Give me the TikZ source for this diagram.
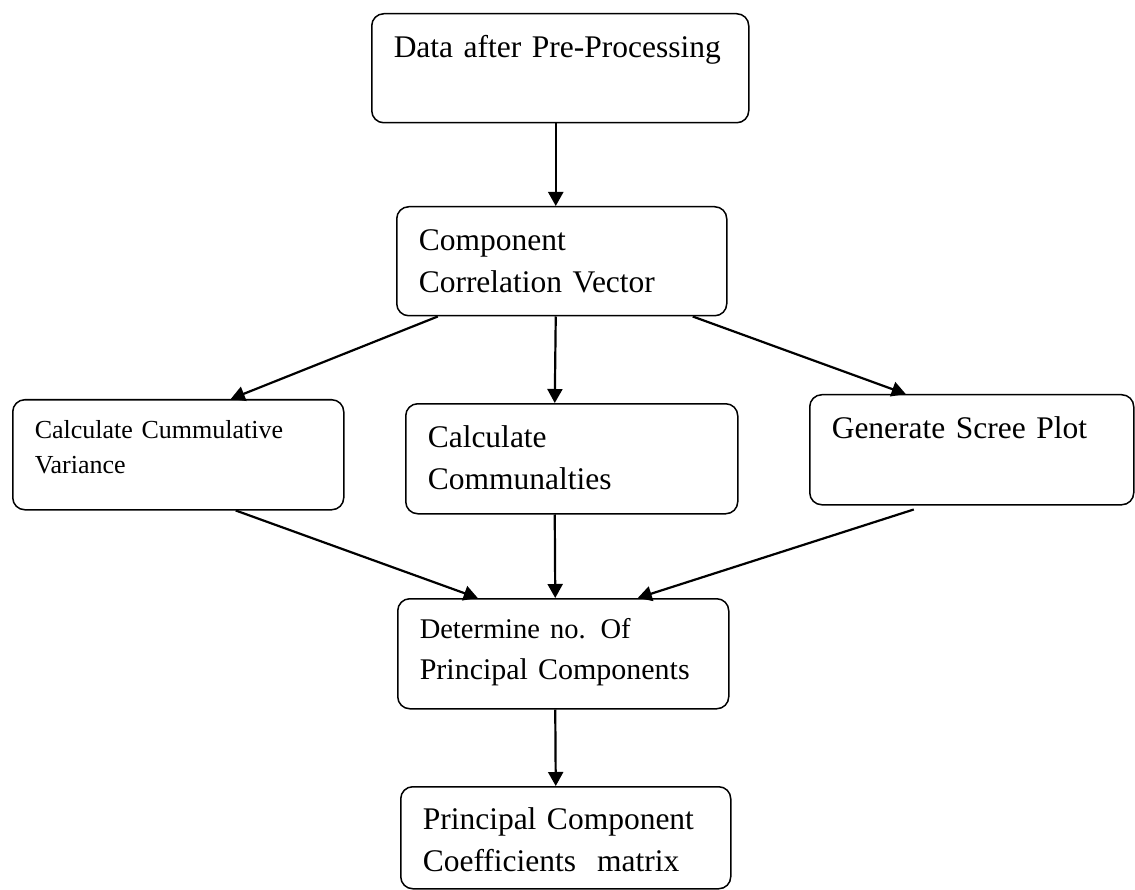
\documentclass[tikz,border=0pt]{standalone}
\usepackage{fontspec}
\setmainfont{Liberation Serif}
\usetikzlibrary{arrows.meta}

\tikzset{
  box/.style={draw, line width=1.5pt, rounded corners=12pt, anchor=north west,
    align=left, inner xsep=22pt, inner ysep=0pt,
    font=\fontsize{31.5}{42}\selectfont},
  arr/.style={-{Triangle[length=14pt,width=15pt]}, line width=2.2pt}
}

\begin{document}
\begin{tikzpicture}[x=1pt, y=-1pt]
            \useasboundingbox (0,0) rectangle (1135,890);

            % Boxes, placed by their top left corner
            \node[box, text width=333pt, text height=44pt, text depth=65pt] (data) at (371,13) {Data after Pre-Processing};
            \node[box, text width=286pt, text height=44pt, text depth=65pt] (corr) at (396,206) {Component\\Correlation Vector};
            \node[box, text width=287pt, text height=39pt, text depth=71pt, font=\fontsize{26}{35}\selectfont] (cumvar) at (12,399) {Calculate Cummulative\\Variance};
            \node[box, text width=288pt, text height=44pt, text depth=66pt] (comm) at (405,403) {Calculate\\Communalties};
            \node[box, text width=280pt, text height=44pt, text depth=66pt] (scree) at (809,394) {Generate Scree Plot};
            \node[box, text width=287pt, text height=40pt, text depth=70pt, font=\fontsize{30}{41}\selectfont] (npc) at (397,598) {{\fontsize{28.5}{41}\selectfont Determine no. Of}\\Principal Components};
            \node[box, text width=286pt, text height=43pt, text depth=59pt] (coef) at (400,786) {Principal Component\\Coefficients~ matrix};

            % Arrows
            \draw[arr] ([xshift=-4.5pt]data.south) -- ([xshift=-6pt]corr.north);
            \draw[arr] ([xshift=-124pt]corr.south) -- ([xshift=52.5pt]cumvar.north);
            \draw[arr] ([xshift=-6pt]corr.south) -- ([xshift=-17pt]comm.north);
            \draw[arr] ([xshift=131pt]corr.south) -- ([xshift=-66pt]scree.north);
            \draw[arr] ([xshift=57.5pt]cumvar.south) -- ([xshift=-85.5pt]npc.north);
            \draw[arr] ([xshift=-17pt]comm.south) -- ([xshift=-8pt]npc.north);
            \draw[arr] ([xshift=-58pt,yshift=-4pt]scree.south) -- ([xshift=74.5pt]npc.north);
            \draw[arr] ([xshift=-8pt]npc.south) -- ([xshift=-10pt]coef.north);
\end{tikzpicture}
\end{document}
